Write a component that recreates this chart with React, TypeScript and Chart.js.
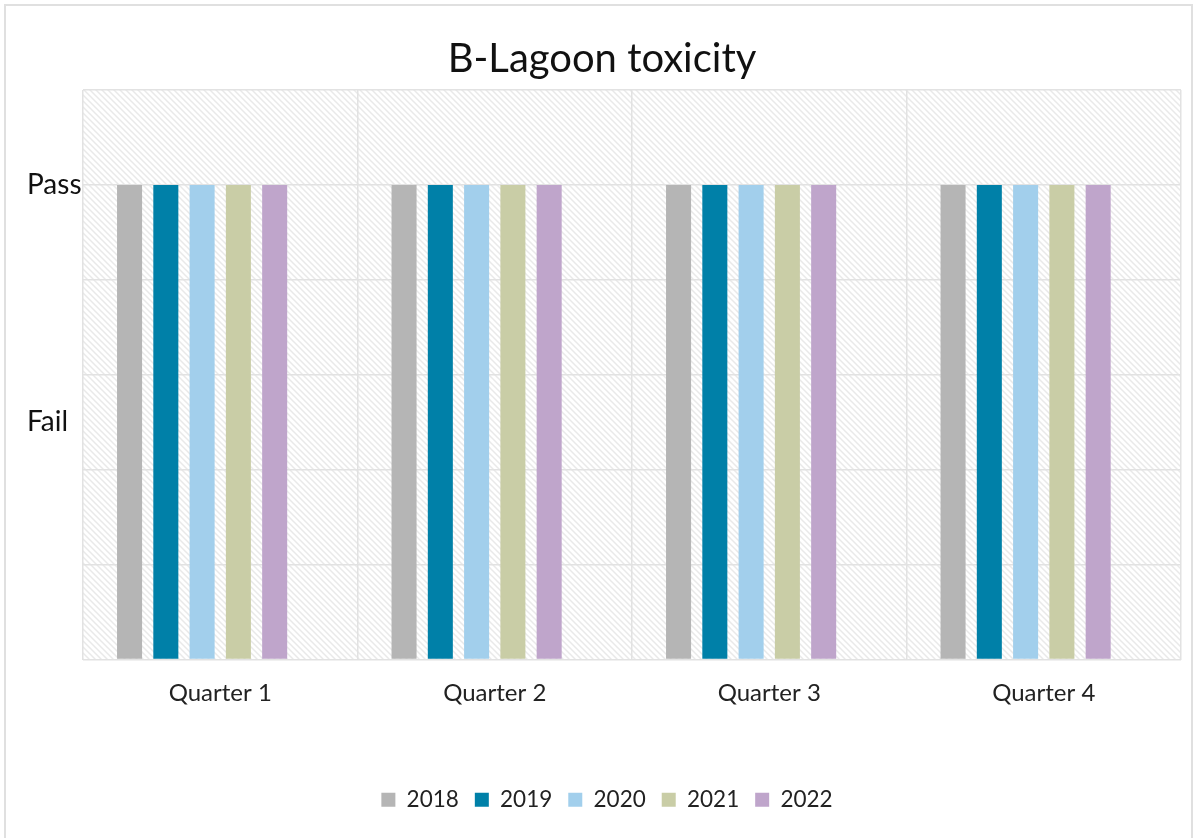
import React, { useEffect, useRef } from "react";
import { Chart, registerables } from "chart.js";

Chart.register(...registerables);

const categories = ["Quarter 1", "Quarter 2", "Quarter 3", "Quarter 4"];
const years = ["2018", "2019", "2020", "2021", "2022"];
const values2018 = [5, 5, 5, 5];
const values2019 = [5, 5, 5, 5];
const values2020 = [5, 5, 5, 5];
const values2021 = [5, 5, 5, 5];
const values2022 = [5, 5, 5, 5];
const emptySeries = [null, null, null, null];
const colors = ["#b5b5b5", "#0080a8", "#a2cfec", "#c9cda6", "#bfa5cb"];
const tickLabels: Record<string, string> = { "5": "Pass", "2.5": "Fail" };

const FONT = "Lato, 'Open Sans', sans-serif";

function makePattern(ctx: CanvasRenderingContext2D) {
  const c = document.createElement("canvas");
  const s = 6;
  c.width = s;
  c.height = s;
  const p = c.getContext("2d")!;
  p.fillStyle = "#ffffff";
  p.fillRect(0, 0, s, s);
  p.strokeStyle = "#e9e9e9";
  p.lineWidth = 1.5;
  p.beginPath();
  p.moveTo(-1, -1);
  p.lineTo(s + 1, s + 1);
  p.moveTo(-1, s - 1);
  p.lineTo(1, s + 1);
  p.moveTo(s - 1, -1);
  p.lineTo(s + 1, 1);
  p.stroke();
  return ctx.createPattern(c, "repeat");
}

const hatchPlugin = {
  id: "hatch",
  beforeDraw(chart: any) {
    const { ctx, chartArea } = chart;
    if (!chartArea) return;
    ctx.save();
    const pat = makePattern(ctx);
    if (pat) ctx.fillStyle = pat;
    ctx.fillRect(chartArea.left, chartArea.top, chartArea.right - chartArea.left, chartArea.bottom - chartArea.top);
    ctx.restore();
  },
};

const boxShift = {
  id: "boxShift",
  afterLayout(chart: any) {
    if (chart.legend) {
      chart.legend.left -= 5.5;
      chart.legend.right -= 5.5;
    }
    if (chart.titleBlock) {
      chart.titleBlock.left -= 10.5;
      chart.titleBlock.right -= 10.5;
    }
  },
};

export default function App() {
  const ref = useRef<HTMLCanvasElement>(null);
  useEffect(() => {
    if (!ref.current) return;
    const seriesValues = [values2018, values2019, values2020, values2021, values2022];
    const datasets: any[] = years.map((y, i) => ({
      label: y,
      data: seriesValues[i],
      backgroundColor: colors[i],
      borderWidth: 0,
    }));
    datasets.push({ label: "", data: emptySeries, backgroundColor: "transparent", borderWidth: 0 });
    const chart = new Chart(ref.current, {
      type: "bar",
      data: { labels: categories, datasets },
      plugins: [hatchPlugin, boxShift],
      options: {
        animation: false,
        responsive: false,
        maintainAspectRatio: false,
        layout: { padding: { left: 27, right: 0, top: 0, bottom: 17 } },
        datasets: { bar: { categoryPercentage: 0.793, barPercentage: 0.69 } },
        plugins: {
          tooltip: { enabled: false },
          title: {
            display: true,
            text: "B-Lagoon toxicity",
            color: "#111111",
            font: { family: FONT, size: 40, weight: "normal" },
            padding: { top: 34.8, bottom: 7.2 },
          },
          legend: {
            position: "bottom",
            labels: {
              color: "#222222",
              font: { family: FONT, size: 22.5 },
              boxWidth: 14,
              boxHeight: 14,
              padding: 16,
              filter: (item: any) => item.text !== "",
            },
          },
        },
        scales: {
          x: {
            grid: { color: "#e2e2e2", lineWidth: 1.5, offset: true, drawTicks: false },
            border: { display: false },
            ticks: { color: "#222222", font: { family: FONT, size: 24 }, padding: 19 },
            afterFit: (s: any) => { s.height = 113; },
          },
          y: {
            min: 0,
            max: 6,
            grid: {
              color: (c: any) => (Number.isInteger(c.tick?.value) ? "#e2e2e2" : "rgba(0,0,0,0)"),
              lineWidth: 1.5,
              drawTicks: false,
            },
            border: { display: false },
            ticks: {
              stepSize: 0.5,
              autoSkip: false,
              crossAlign: "far",
              color: "#111111",
              font: { family: FONT, size: 28 },
              padding: 3,
              callback: (v: any) => tickLabels[String(v)] ?? "",
            },
            afterFit: (s: any) => { s.width = 56; },
          },
          yRight: {
            position: "right",
            grid: { display: false },
            border: { display: false },
            ticks: { display: false },
            afterFit: (s: any) => { s.width = 17; },
          },
        },
      },
    });
    return () => chart.destroy();
  }, []);
  return (
    <div style={{ position: "fixed", left: 0, top: 0, width: 1198, height: 838, background: "#fff", overflow: "hidden" }}>
      <div style={{ position: "absolute", left: 4, top: 4, width: 1189, height: 860, border: "2px solid #e0e0e0", boxSizing: "border-box" }} />
      <canvas ref={ref} width={1198} height={838} style={{ position: "absolute", left: 0, top: 0, width: 1198, height: 838 }} />
    </div>
  );
}
